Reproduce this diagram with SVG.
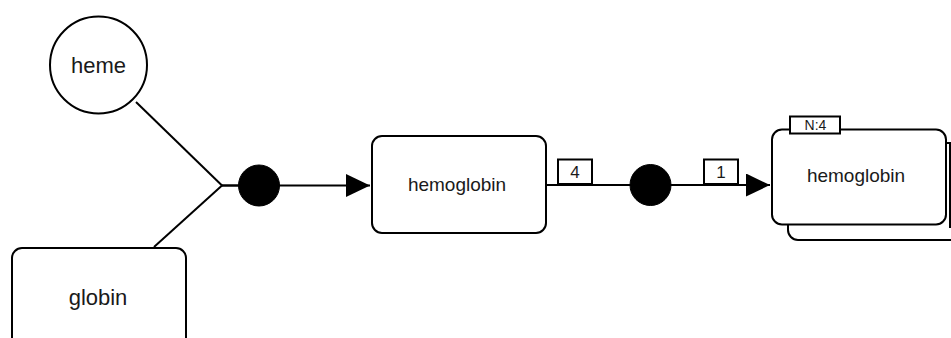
<svg xmlns="http://www.w3.org/2000/svg" width="951" height="338" viewBox="0 0 951 338">
<defs>
<style>
.shape{fill:#fff;stroke:#000;stroke-width:2}
.proc{fill:#000;stroke:#000;stroke-width:1}
.edge{fill:none;stroke:#000;stroke-width:2}
.lbl{font-family:"Liberation Sans",Arial,sans-serif;fill:#1a1a1a;text-anchor:middle}
</style>
<marker id="arrow" markerWidth="24" markerHeight="23" refX="24" refY="11.5" orient="auto" markerUnits="userSpaceOnUse">
<path d="M0,0 L24,11.5 L0,23 Z" fill="#000"/>
</marker>
</defs>
<rect width="951" height="338" fill="#fff"/>
<g id="connectors">
<line class="edge" x1="136" y1="102" x2="222" y2="185.5"/>
<line class="edge" x1="154" y1="247" x2="222" y2="185.5"/>
<line class="edge" x1="222" y1="185.5" x2="239" y2="185.5" style="stroke-width:2.5"/>
<line class="edge" x1="279" y1="185.5" x2="370" y2="185.5" marker-end="url(#arrow)"/>
<line class="edge" x1="547" y1="185" x2="631" y2="185"/>
<line class="edge" x1="670" y1="185" x2="770" y2="185" marker-end="url(#arrow)"/>
<g id="card-4"><rect class="shape" x="558" y="159.5" width="34" height="24.5"/><text class="lbl" x="575" y="177.5" font-size="17">4</text></g>
<g id="card-1"><rect class="shape" x="704" y="159.5" width="34" height="24.5"/><text class="lbl" x="721" y="177.5" font-size="17">1</text></g>
</g>
<g id="heme">
<circle class="shape" cx="98.5" cy="65" r="48.5"/>
<text class="lbl" x="98.5" y="73" font-size="22">heme</text>
</g>
<g id="globin">
<rect class="shape" x="12" y="248" width="174" height="100" rx="10"/>
<text class="lbl" x="98" y="305" font-size="22">globin</text>
</g>
<g id="process1">
<circle class="proc" cx="259" cy="185.5" r="20.5"/>
</g>
<g id="hemoglobin">
<rect class="shape" x="372" y="136" width="174" height="97" rx="10"/>
<text class="lbl" x="457" y="191" font-size="19">hemoglobin</text>
</g>
<g id="process2">
<circle class="proc" cx="650.5" cy="185" r="20.5"/>
</g>
<g id="hemoglobin-multimer">
<rect class="shape" x="788" y="143" width="174" height="97" rx="10"/>
<line class="edge" x1="950" y1="143" x2="950" y2="228"/>
<rect class="shape" x="772" y="129.5" width="174" height="95" rx="10"/>
<text class="lbl" x="856" y="182" font-size="19">hemoglobin</text>
<rect class="shape" x="790" y="116.5" width="50" height="17"/>
<text class="lbl" x="815.5" y="130" font-size="14">N:4</text>
</g>
</svg>
